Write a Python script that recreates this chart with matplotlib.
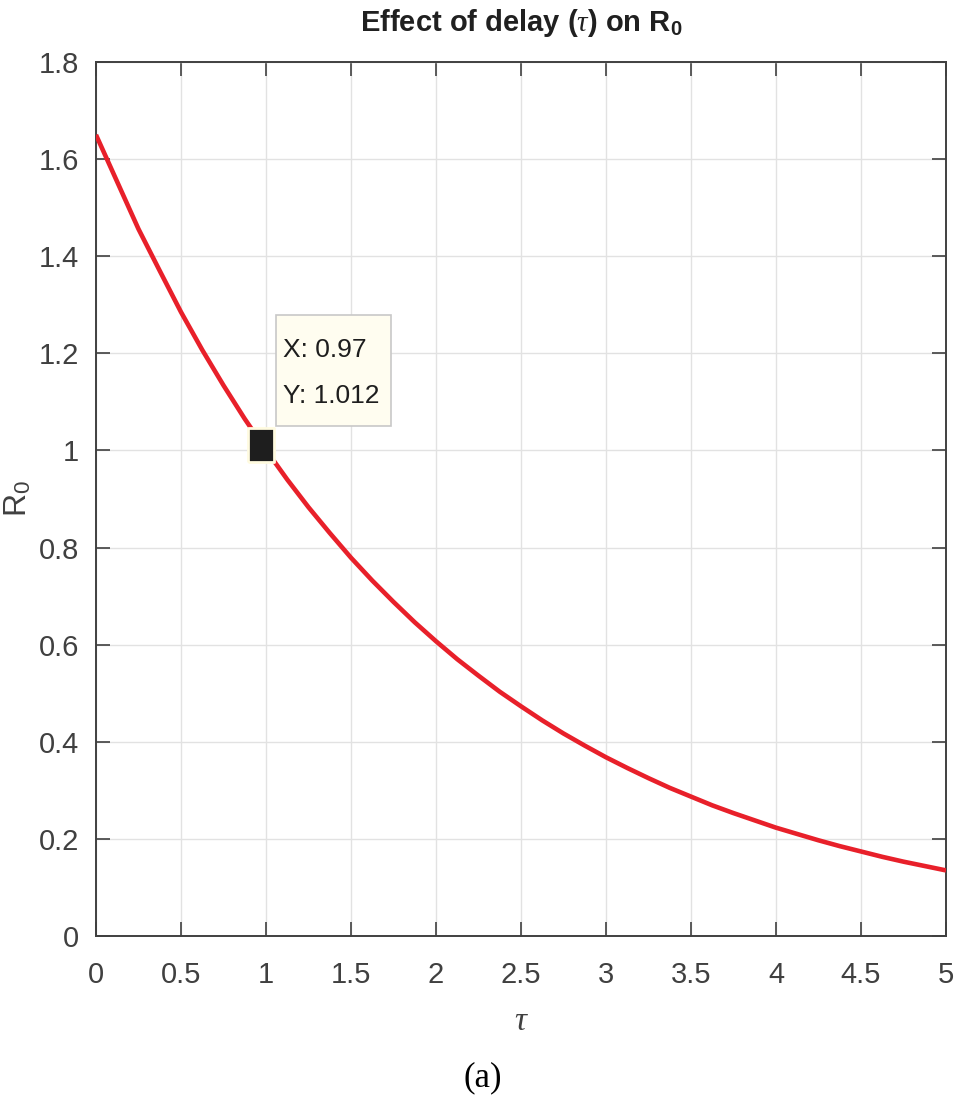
import matplotlib
matplotlib.use("Agg")
import matplotlib.pyplot as plt
from matplotlib.patches import Rectangle
from matplotlib.ticker import FixedLocator, FixedFormatter

# values
tau = [0, 0.125, 0.25, 0.375, 0.5, 0.625, 0.75, 0.875, 1.0, 1.125, 1.25,
       1.375, 1.5, 1.625, 1.75, 1.875, 2.0, 2.125, 2.25, 2.375, 2.5,
       2.625, 2.75, 2.875, 3.0, 3.125, 3.25, 3.375, 3.5, 3.625, 3.75,
       3.875, 4.0, 4.125, 4.25, 4.375, 4.5, 4.625, 4.75, 4.875, 5.0]
r0 = [1.650, 1.553, 1.456, 1.370, 1.285, 1.207, 1.134, 1.065, 1.001, 0.940, 0.883,
      0.830, 0.779, 0.732, 0.688, 0.646, 0.607, 0.570, 0.536, 0.503, 0.473,
      0.444, 0.417, 0.392, 0.368, 0.346, 0.325, 0.305, 0.287, 0.269, 0.253,
      0.238, 0.223, 0.210, 0.197, 0.185, 0.174, 0.163, 0.153, 0.144, 0.135]

tip_x = 0.97
tip_y = 1.012

xticks = [0, 0.5, 1, 1.5, 2, 2.5, 3, 3.5, 4, 4.5, 5]
xtick_labels = ["0", "0.5", "1", "1.5", "2", "2.5", "3", "3.5", "4", "4.5", "5"]
yticks = [0, 0.2, 0.4, 0.6, 0.8, 1.0, 1.2, 1.4, 1.6, 1.8]
ytick_labels = ["0", "0.2", "0.4", "0.6", "0.8", "1", "1.2", "1.4", "1.6", "1.8"]

plt.rcParams["font.family"] = ["Liberation Sans", "DejaVu Sans"]
plt.rcParams["mathtext.fontset"] = "custom"
plt.rcParams["mathtext.rm"] = "Liberation Sans"
plt.rcParams["mathtext.bf"] = "Liberation Sans:bold"
plt.rcParams["mathtext.it"] = "Liberation Serif:italic"

fig = plt.figure(figsize=(9.55, 11.01), dpi=100)
ax = fig.add_axes([0.1005, 0.1499, 0.8901, 0.7938])

axis_col = "#404040"
ax.plot(tau, r0, color="#e8202a", lw=3.3, zorder=3, solid_capstyle="butt")

ax.set_xlim(0, 5)
ax.set_ylim(0, 1.8)
ax.xaxis.set_major_locator(FixedLocator(xticks))
ax.xaxis.set_major_formatter(FixedFormatter(xtick_labels))
ax.yaxis.set_major_locator(FixedLocator(yticks))
ax.yaxis.set_major_formatter(FixedFormatter(ytick_labels))
ax.grid(True, color="#e2e2e2", lw=1.0, zorder=0)
ax.tick_params(direction="in", length=10, width=1.2, colors=axis_col,
               labelsize=21, top=True, right=True)
ax.tick_params(axis="x", pad=18)
ax.tick_params(axis="y", pad=12)
for sp in ax.spines.values():
    sp.set_color(axis_col)
    sp.set_linewidth(1.4)

ax.set_title(r"Effect of delay ($\tau$) on R$_\mathbf{0}$", fontsize=21, fontweight="bold",
             color="#202020", pad=22)
ax.set_ylabel(r"R$_\mathrm{0}$", fontsize=23, color=axis_col, labelpad=4)
ax.set_xlabel(r"$\tau$", fontsize=24, color=axis_col, labelpad=12)

# data tip
tall_square = [(-0.75, -1), (0.75, -1), (0.75, 1), (-0.75, 1), (-0.75, -1)]
ax.plot([tip_x], [tip_y], marker=tall_square, ms=25, color="#1e1e1e",
        mec="#fffbe0", mew=2, zorder=5, ls="none")
ax.add_patch(Rectangle((1.059, 1.050), 0.676, 0.229, fc="#fffdf0", ec="#c8c8c8",
                       lw=1.2, zorder=6))
ax.text(1.10, 1.160, f"X: {tip_x}\nY: {tip_y}", fontsize=19, color="#1e1e1e",
        linespacing=2.15, va="center", ha="left", zorder=7)

fig.text(0.505, 0.021, "(a)", fontsize=25, family="Liberation Serif",
         ha="center", va="center")

fig.savefig("out.png", dpi=100)
